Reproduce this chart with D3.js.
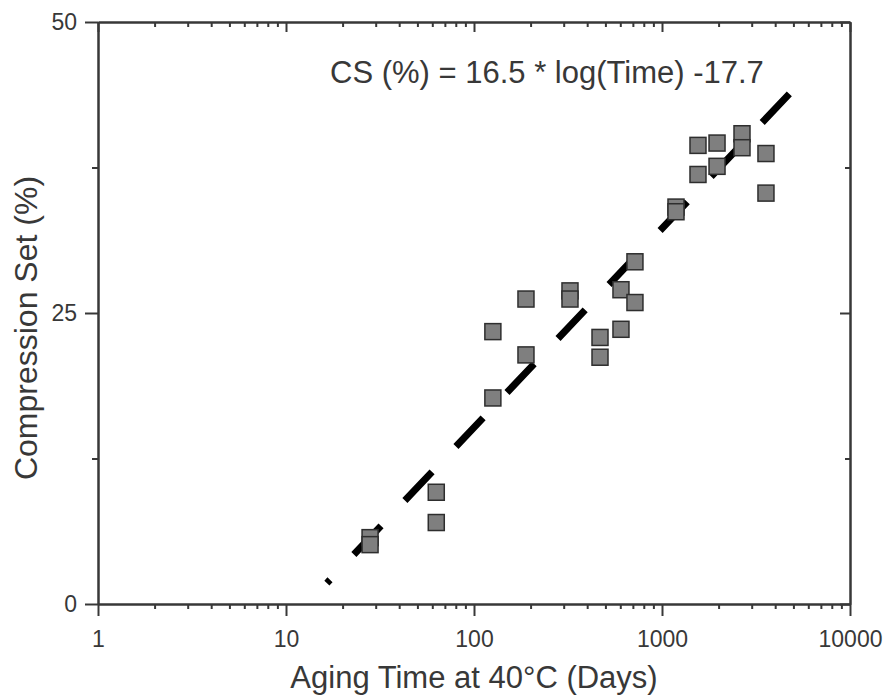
<!DOCTYPE html>
<html>
<head>
<meta charset="utf-8">
<script src="https://cdn.jsdelivr.net/npm/d3@7"></script>
<style>
  body { margin: 0; background: #fff; }
  svg { display: block; font-family: "Liberation Sans", Arial, sans-serif; }
</style>
</head>
<body>
<div id="grafico"></div>
<script>
// dados
const agingDays = [28, 28, 63, 63, 126, 126, 189, 189, 324, 324, 468, 468, 605, 605,
                   718, 718, 1187, 1187, 1554, 1554, 1962, 1962, 2664, 2664, 3573, 3573];
const compressionSet = [5.7, 5.1, 9.6, 7.0, 23.4, 17.7, 26.2, 21.4, 26.9, 26.2, 22.9, 21.2, 23.6, 27.0,
                        25.9, 29.4, 34.1, 33.7, 39.4, 36.9, 39.6, 37.6, 40.4, 39.2, 38.7, 35.3];
// reta de ajuste (extremos)
const fitDays = [16.5, 4800];
const fitCS = [1.8, 43.9];
const xTicks = [1, 10, 100, 1000, 10000];
const yTicks = [0, 25, 50];
const yMinorTicks = [12.5, 37.5];
const fitLabel = "CS (%) = 16.5 * log(Time) -17.7";

const width = 888;
const height = 697;
const mLeft = 98, mRight = 850, mTop = 22, mBottom = 604;
const ink = "#383838";

const svg = d3.select("#grafico").append("svg")
    .attr("width", width)
    .attr("height", height)
    .attr("viewBox", [0, 0, width, height]);

const x = d3.scaleLog().domain([1, 10000]).range([mLeft, mRight]);
const y = d3.scaleLinear().domain([0, 50]).range([mBottom, mTop]);

// ticks menores do eixo log
const xMinor = [];
for (let d = 1; d < 10000; d *= 10) {
    for (let k = 2; k <= 9; k++) xMinor.push(d * k);
}

function styleAxis(g) {
    g.selectAll("path.domain").attr("stroke", ink).attr("stroke-width", 2);
    g.selectAll(".tick line").attr("stroke", ink).attr("stroke-width", 2);
}

// eixo inferior
svg.append("g")
    .attr("transform", `translate(0,${mBottom})`)
    .call(d3.axisBottom(x).tickValues(xMinor).tickSize(5).tickSizeOuter(0).tickFormat(""))
    .call(styleAxis);
const gx = svg.append("g")
    .attr("transform", `translate(0,${mBottom})`)
    .call(d3.axisBottom(x).tickValues(xTicks).tickSize(12).tickSizeOuter(0).tickFormat(d3.format("d")))
    .call(styleAxis);
gx.selectAll(".tick text")
    .attr("y", 27)
    .attr("dy", "0.71em")
    .attr("fill", ink)
    .style("font-size", "23px");

// eixo superior (ticks para dentro)
svg.append("g")
    .attr("transform", `translate(0,${mTop})`)
    .call(d3.axisBottom(x).tickValues(xMinor).tickSize(5).tickSizeOuter(0).tickFormat(""))
    .call(styleAxis);
svg.append("g")
    .attr("transform", `translate(0,${mTop})`)
    .call(d3.axisBottom(x).tickValues(xTicks).tickSize(10).tickSizeOuter(0).tickFormat(""))
    .call(styleAxis);

// eixo esquerdo
svg.append("g")
    .attr("transform", `translate(${mLeft},0)`)
    .call(d3.axisLeft(y).tickValues(yMinorTicks).tickSize(6).tickSizeOuter(0).tickFormat(""))
    .call(styleAxis);
const gy = svg.append("g")
    .attr("transform", `translate(${mLeft},0)`)
    .call(d3.axisLeft(y).tickValues(yTicks).tickSize(13).tickSizeOuter(0).tickFormat(d3.format("d")))
    .call(styleAxis);
gy.selectAll(".tick text")
    .attr("x", -21)
    .attr("fill", ink)
    .style("font-size", "23px");

// eixo direito (ticks para dentro)
svg.append("g")
    .attr("transform", `translate(${mRight},0)`)
    .call(d3.axisLeft(y).tickValues(yMinorTicks).tickSize(5).tickSizeOuter(0).tickFormat(""))
    .call(styleAxis);
svg.append("g")
    .attr("transform", `translate(${mRight},0)`)
    .call(d3.axisLeft(y).tickValues(yTicks).tickSize(10).tickSizeOuter(0).tickFormat(""))
    .call(styleAxis);

// reta de ajuste tracejada
const fitData = fitDays.map((d, i) => ({ t: d, cs: fitCS[i] }));
svg.append("path")
    .datum(fitData)
    .attr("fill", "none")
    .attr("stroke", "#000")
    .attr("stroke-width", 7)
    .attr("stroke-dasharray", "39.5,34.8")
    .attr("stroke-dashoffset", 35)
    .attr("d", d3.line().x(d => x(d.t)).y(d => y(d.cs)));

// pontos
const pontos = agingDays.map((d, i) => ({ t: d, cs: compressionSet[i] }));
const s = 16;
svg.append("g")
    .selectAll("rect")
    .data(pontos)
    .join("rect")
    .attr("x", d => x(d.t) - s / 2)
    .attr("y", d => y(d.cs) - s / 2)
    .attr("width", s)
    .attr("height", s)
    .attr("fill", "#7f7f7f")
    .attr("stroke", "#2e2e2e")
    .attr("stroke-width", 1.5);

// textos
svg.append("text")
    .attr("x", 330)
    .attr("y", 83)
    .attr("fill", ink)
    .style("font-size", "31px")
    .text(fitLabel);

svg.append("text")
    .attr("x", (mLeft + mRight) / 2)
    .attr("y", 688)
    .attr("text-anchor", "middle")
    .attr("fill", ink)
    .style("font-size", "31px")
    .text("Aging Time at 40°C (Days)");

svg.append("text")
    .attr("transform", `translate(37,328) rotate(-90)`)
    .attr("text-anchor", "middle")
    .attr("fill", ink)
    .style("font-size", "32px")
    .text("Compression Set (%)");
</script>
</body>
</html>
